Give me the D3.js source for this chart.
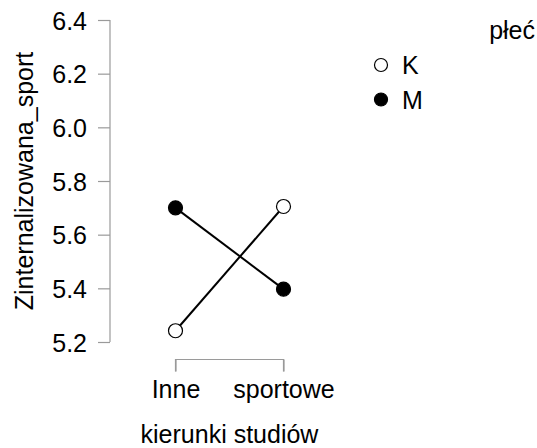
<!DOCTYPE html>
<html>
<head>
<meta charset="utf-8">
<script src="https://cdn.jsdelivr.net/npm/d3@7"></script>
<style>
  body { margin: 0; background: #fff; }
  text { font-family: "Liberation Sans", Arial, sans-serif; fill: #000; }
</style>
</head>
<body>
<div id="chart"></div>
<script>
//Categories and groups
const categories = ["Inne", "sportowe"];
const groups = ["K", "M"];
const groupFill = ["#fff", "#000"];

//Means per group, in category order
const valuesK = [5.242, 5.705];
const valuesM = [5.700, 5.397];

//Y axis ticks
const yTicks = [5.2, 5.4, 5.6, 5.8, 6.0, 6.2, 6.4];

//Texts
const yTitle = "Zinternalizowana_sport";
const xTitle = "kierunki studiów";
const legendTitle = "płeć";

//////////////////////////////////////////////////

const width = 537;
const height = 448;
const AXIS_COLOR = "#9a9a9a";
const FONT = 25;

var svg = d3.select("#chart")
			.append("svg")
			.attr("width", width)
			.attr("height", height);

//Scales
var y = d3.scaleLinear()
		  .domain([5.2, 6.4])
		  .range([342, 20]);

var x = d3.scalePoint()
		  .domain(categories)
		  .range([175.5, 283.5]);

//Y axis
var yAxis = svg.append("g")
			   .attr("transform", "translate(110,0)")
			   .call(d3.axisLeft(y).tickValues(yTicks).tickFormat(d3.format(".1f")).tickSize(12).tickPadding(11));
yAxis.selectAll("path, line").attr("stroke", AXIS_COLOR).attr("stroke-width", 1.2);
yAxis.select(".domain").attr("d", "M0," + y(6.4) + "V" + y(5.2));
yAxis.selectAll("text").attr("font-size", FONT).attr("font-family", null).attr("dy", "0.36em");

//X axis as a bracket below the plot
var xAxis = svg.append("g")
			   .attr("transform", "translate(0,359.5)")
			   .call(d3.axisBottom(x).tickSize(12).tickPadding(9));
xAxis.selectAll("path, line").attr("stroke", AXIS_COLOR).attr("stroke-width", 1.2);
xAxis.select(".domain").attr("d", "M" + x("Inne") + ",12V0H" + x("sportowe") + "V12");
xAxis.selectAll("text").attr("font-size", FONT).attr("font-family", null);

//Axis titles
svg.append("text")
   .attr("transform", "translate(33," + 181 + ") rotate(-90)")
   .attr("text-anchor", "middle")
   .attr("font-size", FONT)
   .text(yTitle);

svg.append("text")
   .attr("x", (x("Inne") + x("sportowe")) / 2)
   .attr("y", 443)
   .attr("text-anchor", "middle")
   .attr("font-size", FONT)
   .text(xTitle);

//Lines and points
var series = [valuesK, valuesM];
var line = d3.line()
			 .x(function(d, i) { return x(categories[i]); })
			 .y(function(d) { return y(d); });

series.forEach(function(vals, g) {
	svg.append("path")
	   .attr("d", line(vals))
	   .attr("stroke", "#000")
	   .attr("stroke-width", 2)
	   .attr("fill", "none");
});

series.forEach(function(vals, g) {
	svg.selectAll(".pt" + g)
	   .data(vals)
	   .enter()
	   .append("circle")
	   .attr("cx", function(d, i) { return x(categories[i]); })
	   .attr("cy", function(d) { return y(d); })
	   .attr("r", 7)
	   .attr("fill", groupFill[g])
	   .attr("stroke", "#000")
	   .attr("stroke-width", 1.2);
});

//Legend
svg.append("text")
   .attr("x", 535)
   .attr("y", 39)
   .attr("text-anchor", "end")
   .attr("font-size", FONT)
   .text(legendTitle);

var legend = svg.selectAll(".legend")
				.data(groups)
				.enter()
				.append("g")
				.attr("transform", function(d, i) { return "translate(381," + (65 + i * 34.5) + ")"; });

legend.append("circle")
	  .attr("r", 6.5)
	  .attr("fill", function(d, i) { return groupFill[i]; })
	  .attr("stroke", "#000")
	  .attr("stroke-width", 1.2);

legend.append("text")
	  .attr("x", 21)
	  .attr("dy", "0.36em")
	  .attr("font-size", FONT)
	  .text(function(d) { return d; });
</script>
</body>
</html>
